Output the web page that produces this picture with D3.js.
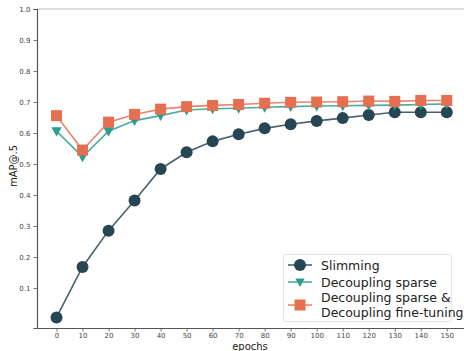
<!DOCTYPE html>
<html><head><meta charset="utf-8">
<script src="https://cdn.jsdelivr.net/npm/d3@7"></script>
<style>body{margin:0;background:#fff}svg{display:block}</style>
</head><body>
<svg id="c" width="464" height="351"></svg>
<script>
const epochs = [0,10,20,30,40,50,60,70,80,90,100,110,120,130,140,150];
const slimming = [0.005,0.168,0.285,0.382,0.484,0.538,0.573,0.596,0.615,0.628,0.639,0.648,0.658,0.667,0.667,0.667];
const decSparse = [0.606,0.523,0.606,0.640,0.656,0.674,0.678,0.680,0.683,0.685,0.687,0.688,0.689,0.690,0.692,0.694];
const decFine = [0.656,0.545,0.635,0.660,0.677,0.685,0.689,0.692,0.696,0.699,0.700,0.701,0.703,0.702,0.705,0.705];
const yTicks = [0.1,0.2,0.3,0.4,0.5,0.6,0.7,0.8,0.9,1.0];
const seriesNames = ["Slimming","Decoupling sparse","Decoupling sparse &\nDecoupling fine-tuning"];
const colors = ["#264653","#2a9d8f","#e76f51"];

const svg = d3.select("#c");
const x = d3.scaleLinear().domain([-7.5,157.5]).range([37,466.3]);
const y = d3.scaleLinear().domain([-0.029,1.0]).range([328,9]);

// top spine
svg.append("line").attr("x1",37).attr("x2",464).attr("y1",9).attr("y2",9).attr("stroke","#bdbdbd").attr("stroke-width",1.2);

const xAxis = svg.append("g").attr("transform","translate(0,328)")
  .call(d3.axisBottom(x).tickValues(epochs).tickSize(3.5).tickPadding(1.5).tickFormat(d3.format("d")));
const yAxis = svg.append("g").attr("transform","translate(37,0)")
  .call(d3.axisLeft(y).tickValues(yTicks).tickSize(3.5).tickPadding(3).tickFormat(d3.format(".1f")));
[xAxis,yAxis].forEach(a=>{
  a.select(".domain").attr("stroke","#555").attr("stroke-width",1.2);
  a.selectAll(".tick line").attr("stroke","#555").attr("stroke-width",0.8);
  a.selectAll(".tick text").attr("fill","#444").style("font-family","DejaVu Sans").style("font-size","7px");
});
xAxis.select(".domain").attr("d","M37,0.5H464");

svg.append("text").attr("x",250).attr("y",349.5).attr("text-anchor","middle")
  .style("font-family","DejaVu Sans").style("font-size","10px").attr("fill","#222").text("epochs");
svg.append("text").attr("transform","translate(17,166) rotate(-90)").attr("text-anchor","middle")
  .style("font-family","DejaVu Sans").style("font-size","10px").attr("fill","#222").text("mAP@.5");

const data = [slimming, decSparse, decFine];
const line = d3.line().x((d,i)=>x(epochs[i])).y(d=>y(d));

function marker(g, k, cx, cy, scale){
  const s = scale||1;
  if(k===0){
    g.append("circle").attr("cx",cx).attr("cy",cy).attr("r",6*s).attr("fill",colors[0]);
  } else if(k===1){
    const h=5.2*s;
    g.append("path").attr("d",`M${cx-h},${cy-h*0.75}L${cx+h},${cy-h*0.75}L${cx},${cy+h*1.05}Z`).attr("fill",colors[1]);
  } else {
    const h=5.5*s;
    g.append("rect").attr("x",cx-h).attr("y",cy-h).attr("width",2*h).attr("height",2*h).attr("fill",colors[2]);
  }
}

data.forEach((vals,k)=>{
  const g = svg.append("g");
  g.append("path").datum(vals).attr("d",line).attr("fill","none")
    .attr("stroke",colors[k]).attr("stroke-width",1.6).attr("stroke-opacity",0.85);
  vals.forEach((v,i)=>marker(g,k,x(epochs[i]),y(v)));
});

// legend
const lg = svg.append("g");
lg.append("rect").attr("x",283.5).attr("y",254.5).attr("width",168).attr("height",67).attr("rx",2)
  .attr("fill","#fff").attr("fill-opacity",0.85).attr("stroke","#ddd").attr("stroke-width",0.8);
const rowsY = [265,282,305];
seriesNames.forEach((name,k)=>{
  const ry = rowsY[k];
  lg.append("line").attr("x1",288).attr("x2",312).attr("y1",ry).attr("y2",ry)
    .attr("stroke",colors[k]).attr("stroke-width",1.6).attr("stroke-opacity",0.85);
  marker(lg,k,300,ry,k===1?0.9:1);
  const lines = name.split("\n");
  lines.forEach((ln,j)=>{
    lg.append("text").style("font-family","DejaVu Sans").style("font-size","12.5px").attr("fill","#222")
      .attr("x",321).attr("y", lines.length>1 ? 302 + j*14.6 : ry+4.5).text(ln);
  });
});
</script>
</body></html>
